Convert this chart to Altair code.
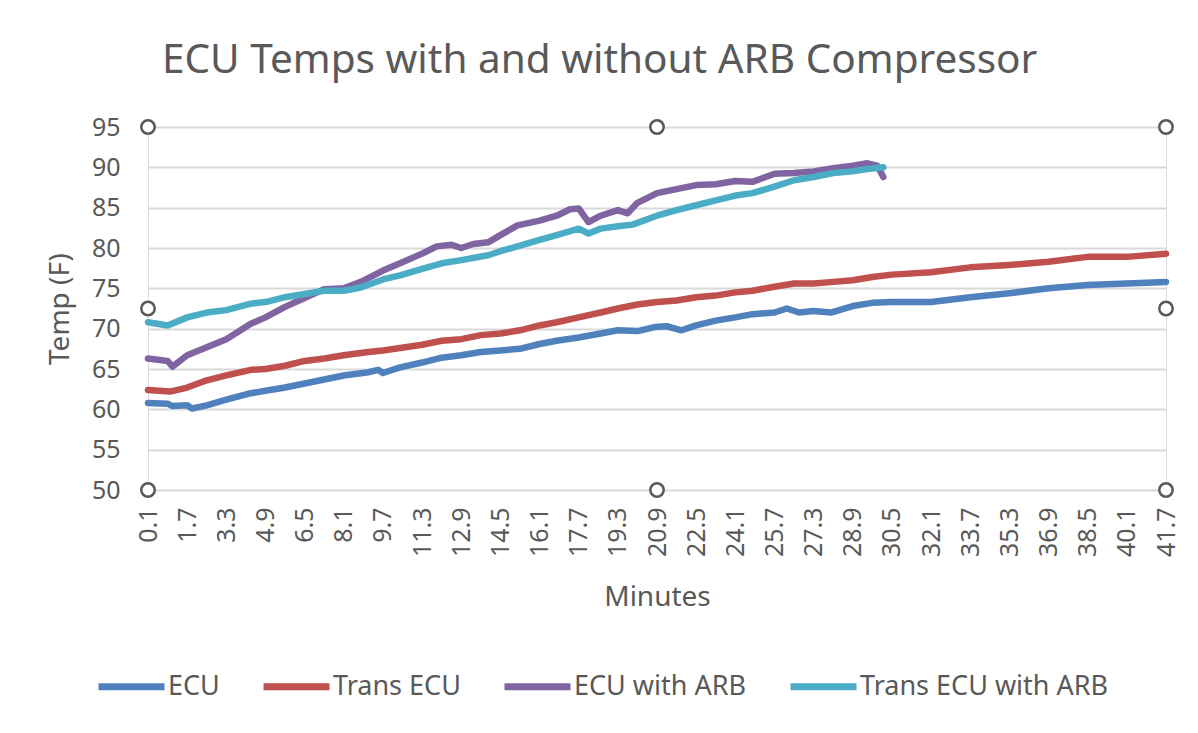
import altair as alt
import pandas as pd

FONT = "Noto Sans"
TEXT = "#595959"

series_names = ["ECU", "Trans ECU", "ECU with ARB", "Trans ECU with ARB"]
series_colors = ["#4F81BD", "#C0504D", "#8064A2", "#4BACC6"]

tick_values = [0.1, 1.7, 3.3, 4.9, 6.5, 8.1, 9.7, 11.3, 12.9, 14.5, 16.1, 17.7, 19.3,
               20.9, 22.5, 24.1, 25.7, 27.3, 28.9, 30.5, 32.1, 33.7, 35.3, 36.9, 38.5,
               40.1, 41.7]
y_ticks = [50, 55, 60, 65, 70, 75, 80, 85, 90, 95]

ecu_min = [0.1, 0.9, 1.1, 1.7, 1.9, 2.5, 3.3, 4.3, 4.9, 5.7, 6.5, 7.3, 8.1, 9.1, 9.5, 9.7,
           10.4, 11.3, 12.1, 12.9, 13.7, 14.5, 15.3, 16.1, 16.8, 17.7, 18.6, 19.3, 20.1,
           20.8, 21.3, 21.9, 22.5, 23.3, 24.1, 24.8, 25.7, 26.2, 26.7, 27.3, 28.0, 28.9,
           29.7, 30.5, 32.1, 33.7, 35.3, 36.9, 38.5, 40.1, 41.7]
ecu_temp = [60.8, 60.7, 60.4, 60.5, 60.1, 60.5, 61.2, 62.0, 62.3, 62.7, 63.2, 63.7, 64.2,
            64.6, 64.9, 64.5, 65.2, 65.8, 66.4, 66.7, 67.1, 67.3, 67.5, 68.1, 68.5, 68.9,
            69.4, 69.8, 69.7, 70.2, 70.3, 69.8, 70.4, 71.0, 71.4, 71.8, 72.0, 72.5, 72.0,
            72.2, 72.0, 72.8, 73.2, 73.3, 73.3, 73.9, 74.4, 75.0, 75.4, 75.6, 75.8]

trans_min = [0.1, 1.0, 1.7, 2.5, 3.3, 4.3, 4.9, 5.7, 6.5, 7.3, 8.1, 9.1, 9.7, 10.4, 11.3,
             12.1, 12.9, 13.7, 14.5, 15.3, 16.1, 16.8, 17.7, 18.6, 19.3, 20.1, 20.9, 21.7,
             22.5, 23.3, 24.1, 24.8, 25.7, 26.5, 27.3, 28.1, 28.9, 29.7, 30.5, 32.1, 33.7,
             35.3, 36.9, 38.5, 40.1, 41.7]
trans_temp = [62.4, 62.2, 62.7, 63.6, 64.2, 64.9, 65.0, 65.4, 66.0, 66.3, 66.7, 67.1, 67.3,
              67.6, 68.0, 68.5, 68.7, 69.2, 69.4, 69.8, 70.4, 70.8, 71.4, 72.0, 72.5, 73.0,
              73.3, 73.5, 73.9, 74.1, 74.5, 74.7, 75.2, 75.6, 75.6, 75.8, 76.0, 76.4, 76.7,
              77.0, 77.6, 77.9, 78.3, 78.9, 78.9, 79.3]

arb_min = [0.1, 0.9, 1.1, 1.7, 2.5, 3.3, 4.3, 4.9, 5.7, 6.5, 7.3, 8.1, 8.8, 9.7, 10.4, 11.3,
           11.9, 12.5, 12.9, 13.4, 14.0, 14.5, 15.2, 16.1, 16.8, 17.35, 17.7, 18.1, 18.6,
           19.3, 19.7, 20.1, 20.9, 21.7, 22.5, 23.3, 24.1, 24.8, 25.7, 26.5, 27.3, 28.1,
           28.9, 29.5, 29.9, 30.15]
arb_temp = [66.3, 66.0, 65.3, 66.7, 67.7, 68.7, 70.6, 71.4, 72.7, 73.8, 74.9, 75.0, 75.8,
            77.2, 78.1, 79.3, 80.2, 80.4, 80.0, 80.5, 80.7, 81.6, 82.8, 83.4, 84.0, 84.8,
            84.9, 83.2, 84.0, 84.7, 84.3, 85.6, 86.8, 87.3, 87.8, 87.9, 88.3, 88.2, 89.2,
            89.3, 89.5, 89.9, 90.2, 90.5, 90.2, 88.8]

tarb_min = [0.1, 0.9, 1.7, 2.5, 3.3, 4.3, 4.9, 5.7, 6.5, 7.3, 8.1, 8.8, 9.7, 10.4, 11.3,
            12.1, 12.9, 14.0, 14.5, 15.3, 16.1, 16.8, 17.7, 18.1, 18.6, 19.3, 19.9, 20.9,
            21.7, 22.5, 23.3, 24.1, 24.8, 25.7, 26.5, 27.3, 28.1, 28.9, 29.5, 30.15]
tarb_temp = [70.8, 70.4, 71.4, 72.0, 72.3, 73.1, 73.3, 73.9, 74.3, 74.7, 74.7, 75.1, 76.1,
             76.6, 77.4, 78.1, 78.5, 79.1, 79.6, 80.3, 81.0, 81.6, 82.4, 81.8, 82.4, 82.7,
             82.9, 84.0, 84.7, 85.3, 85.9, 86.5, 86.8, 87.6, 88.4, 88.8, 89.3, 89.5, 89.8,
             90.0]

# selection handles of the plot area (Excel screenshot), in data units
handle_min = [0.1, 20.9, 41.7, 0.1, 41.7, 0.1, 20.9, 41.7]
handle_temp = [95, 95, 95, 72.5, 72.5, 50, 50, 50]

rows = []
for name, mins, temps in zip(series_names,
                             [ecu_min, trans_min, arb_min, tarb_min],
                             [ecu_temp, trans_temp, arb_temp, tarb_temp]):
    for i, (m, t) in enumerate(zip(mins, temps)):
        rows.append({"series": name, "minute": m, "temp": t, "idx": i})
df = pd.DataFrame(rows)
handles = pd.DataFrame({"minute": handle_min, "temp": handle_temp})

x_scale = alt.Scale(domain=[0.1, 41.7], nice=False, zero=False)
y_scale = alt.Scale(domain=[50, 95], nice=False, zero=False)

x_axis = alt.Axis(
    values=tick_values, format=".1f", labelAngle=270, labelFlush=False,
    labelOverlap=False, labelBound=False, labelPadding=17, labelFontSize=25,
    labelFont=FONT, labelColor=TEXT, ticks=False, domain=False, grid=False,
    title="Minutes", titleFont=FONT, titleFontSize=28, titleColor=TEXT,
    titleFontWeight="normal", titleBaseline="alphabetic", titleY=115,
    titleX=509, titleAlign="center")
y_axis = alt.Axis(
    values=y_ticks, labelFontSize=25, labelFont=FONT, labelColor=TEXT,
    labelPadding=28, labelOverlap=False, ticks=False, domain=False, grid=True,
    gridColor="#D9D9D9", gridWidth=2,
    title="Temp (F)", titleFont=FONT, titleFontSize=28, titleColor=TEXT,
    titleFontWeight="normal", titleAngle=270, titleX=-88, titleY=181.5,
    titleAlign="center", titleBaseline="middle")

lines = alt.Chart(df).mark_line(
    strokeWidth=6.5, strokeCap="round", strokeJoin="round", clip=False
).encode(
    x=alt.X("minute:Q", scale=x_scale, axis=x_axis),
    y=alt.Y("temp:Q", scale=y_scale, axis=y_axis),
    color=alt.Color("series:N", sort=series_names,
                    scale=alt.Scale(domain=series_names, range=series_colors),
                    legend=alt.Legend(
                        title=None, orient="none", direction="horizontal",
                        columns=4, legendX=-53, legendY=523,
                        symbolType="stroke", symbolSize=4356, symbolStrokeWidth=7,
                        labelFont=FONT, labelFontSize=27, labelColor=TEXT,
                        labelLimit=500, labelOffset=0, columnPadding=29,
                        padding=0)),
    order=alt.Order("idx:Q"),
)

handle_pts = alt.Chart(handles).mark_point(
    shape="circle", filled=True, fill="white", stroke="#595959",
    strokeWidth=2.5, size=180, opacity=1, clip=False
).encode(
    x=alt.X("minute:Q", scale=x_scale, axis=x_axis),
    y=alt.Y("temp:Q", scale=y_scale, axis=y_axis),
)

chart = alt.layer(lines, handle_pts).properties(
    width=1018, height=363,
    autosize=alt.AutoSizeParams(type="none"),
    padding={"left": 140, "top": 119, "right": 24, "bottom": 235},
    title=alt.TitleParams(
        "ECU Temps with and without ARB Compressor", anchor="start", frame="group",
        dx=14, offset=2, baseline="alphabetic", font=FONT, fontSize=40.5,
        fontWeight="normal", color=TEXT),
).configure_view(stroke="#8C8C8C", strokeWidth=2).configure(background="white")

chart.save("out.html", embed_options={"renderer": "svg", "actions": False})
